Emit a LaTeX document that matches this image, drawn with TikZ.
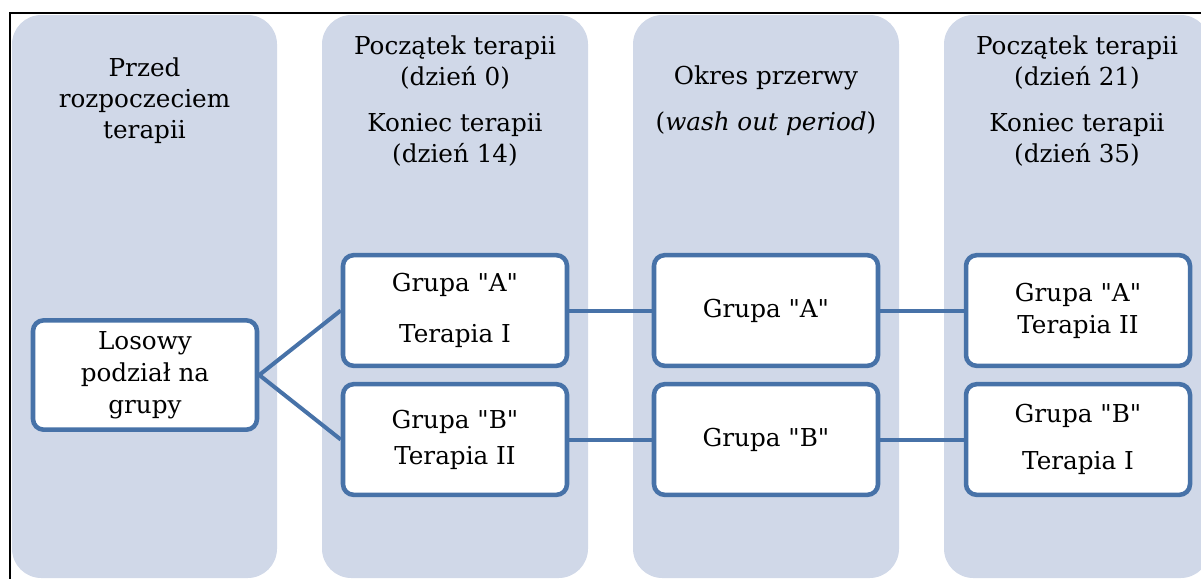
\documentclass[tikz,border=0pt]{standalone}
\usepackage{fontspec}
\setmainfont{DejaVu Serif}[Ligatures=TeXOff]
\definecolor{panelfill}{RGB}{208,216,232}
\definecolor{boxline}{RGB}{71,114,168}

\begin{document}
\begin{tikzpicture}[x=0.75pt, y=-0.75pt,
    every node/.style={font=\fontsize{18.5}{24}\selectfont},
    panel/.style={fill=panelfill, rounded corners=22pt},
    head/.style={align=center, font=\fontsize{18.5}{23.3}\selectfont},
    grp/.style={draw=boxline, line width=3.4pt, fill=white, rounded corners=8pt,
                align=center, minimum width=168pt, minimum height=83pt, inner sep=0pt},
    link/.style={draw=boxline, line width=3pt, line join=round}]
    \useasboundingbox (0,0) rectangle (1201,579);
    \begin{scope}
        \clip (0,0) rectangle (1201,579);
        \fill[panel] (12,15) rectangle (277,578);
        \fill[panel] (322,15) rectangle (588,578);
        \fill[panel] (633,15) rectangle (899,578);
        \fill[panel] (944,15) rectangle (1210,578);
    \end{scope}
    \draw[line width=1.5pt] (1201,13) -| (10,579);

    \node[head] (h0) at (144.5,101) {Przed\\rozpoczeciem\\terapii};
    \node[head] (h1) at (455,101) {Początek terapii\\(dzień 0)\\[11pt]Koniec terapii\\(dzień 14)};
    \node[head] (h2) at (766,101) {Okres przerwy\\[11pt](\textit{wash out period})};
    \node[head] (h3) at (1077,101) {Początek terapii\\(dzień 21)\\[11pt]Koniec terapii\\(dzień 35)};

    \node[grp, minimum height=82pt] (los) at (145,375) {Losowy\\podział na\\grupy};
    \node[grp] (a1) at (455,310.5) {Grupa "A"\\[14pt]Terapia I};
    \node[grp] (b1) at (455,439.5) {Grupa "B"\\[3pt]Terapia II};
    \node[grp] (a2) at (766,310.5) {Grupa "A"};
    \node[grp] (b2) at (766,439.5) {Grupa "B"};
    \node[grp] (a3) at (1078,310.5) {Grupa "A"\\Terapia II};
    \node[grp] (b3) at (1078,439.5) {Grupa "B"\\[11pt]Terapia I};

    \path[link] (a1.west) -- (los.east) -- (b1.west);
    \path[link] (a1) -- (a2) (a2) -- (a3)
                (b1) -- (b2) (b2) -- (b3);
\end{tikzpicture}
\end{document}
